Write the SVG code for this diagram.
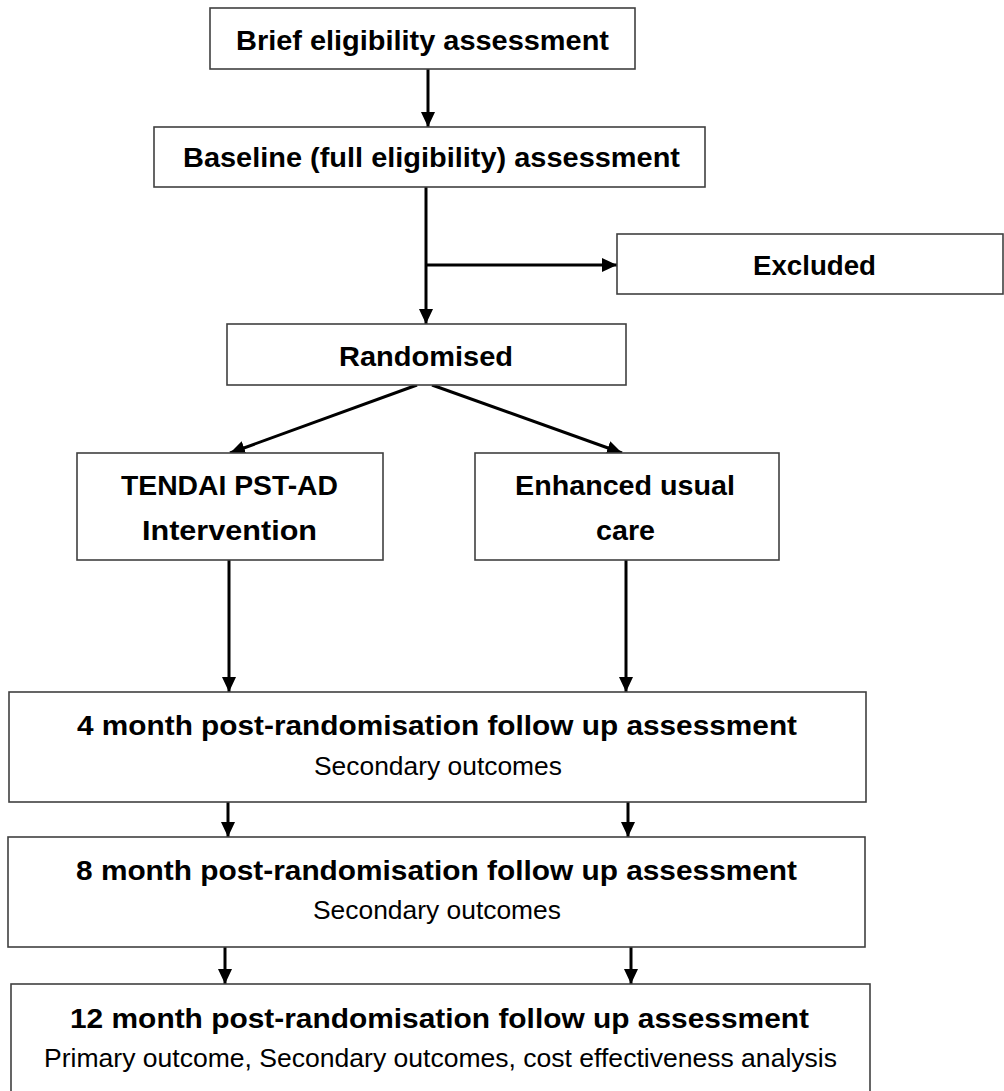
<svg xmlns="http://www.w3.org/2000/svg" width="1004" height="1091" viewBox="0 0 1004 1091">
<style>
.box{fill:#fff;stroke:#404040;stroke-width:1.6}
.t{font-family:"Liberation Sans",Arial,sans-serif;font-weight:bold;font-size:28px;fill:#000;text-anchor:middle}
.s{font-family:"Liberation Sans",Arial,sans-serif;font-weight:normal;font-size:25px;fill:#000;text-anchor:middle}
.c{stroke:#000;stroke-width:3;fill:none;marker-end:url(#ah)}
</style>
<defs>
<marker id="ah" markerUnits="userSpaceOnUse" markerWidth="16" markerHeight="14" refX="15" refY="7" orient="auto">
<path d="M0,0 L15,7 L0,14 Z" fill="#000"/>
</marker>
</defs>
<rect width="1004" height="1091" fill="#fff"/>
<g id="connectors">
<line class="c" x1="428" y1="69" x2="428" y2="127"/>
<line class="c" x1="426" y1="187" x2="426" y2="324"/>
<line class="c" x1="426" y1="265" x2="617" y2="265"/>
<line class="c" x1="417" y1="385" x2="230" y2="453"/>
<line class="c" x1="432" y1="385" x2="622" y2="453"/>
<line class="c" x1="229" y1="560" x2="229" y2="692"/>
<line class="c" x1="626" y1="560" x2="626" y2="692"/>
<line class="c" x1="228" y1="802" x2="228" y2="837"/>
<line class="c" x1="628" y1="802" x2="628" y2="837"/>
<line class="c" x1="225" y1="947" x2="225" y2="984"/>
<line class="c" x1="631" y1="947" x2="631" y2="984"/>
</g>
<g id="brief">
<rect class="box" x="210" y="8" width="425" height="61"/>
<text class="t" x="422.5" y="50" textLength="373" lengthAdjust="spacingAndGlyphs">Brief eligibility assessment</text>
</g>
<g id="baseline">
<rect class="box" x="154" y="127" width="551" height="60"/>
<text class="t" x="431.5" y="167" textLength="497" lengthAdjust="spacingAndGlyphs">Baseline (full eligibility) assessment</text>
</g>
<g id="excluded">
<rect class="box" x="617" y="234" width="386" height="60"/>
<text class="t" x="814.5" y="275" textLength="123" lengthAdjust="spacingAndGlyphs">Excluded</text>
</g>
<g id="randomised">
<rect class="box" x="227" y="324" width="399" height="61"/>
<text class="t" x="426" y="366" textLength="174" lengthAdjust="spacingAndGlyphs">Randomised</text>
</g>
<g id="tendai">
<rect class="box" x="77" y="453" width="306" height="107"/>
<text class="t" x="229.5" y="495" textLength="217" lengthAdjust="spacingAndGlyphs">TENDAI PST-AD</text>
<text class="t" x="229.5" y="540" textLength="175" lengthAdjust="spacingAndGlyphs">Intervention</text>
</g>
<g id="enhanced">
<rect class="box" x="475" y="453" width="304" height="107"/>
<text class="t" x="625" y="495" textLength="220" lengthAdjust="spacingAndGlyphs">Enhanced usual</text>
<text class="t" x="625.5" y="540" textLength="59" lengthAdjust="spacingAndGlyphs">care</text>
</g>
<g id="month4">
<rect class="box" x="9" y="692" width="857" height="110"/>
<text class="t" x="437" y="735" textLength="720" lengthAdjust="spacingAndGlyphs">4 month post-randomisation follow up assessment</text>
<text class="s" x="438" y="775" textLength="248" lengthAdjust="spacingAndGlyphs">Secondary outcomes</text>
</g>
<g id="month8">
<rect class="box" x="8" y="837" width="857" height="110"/>
<text class="t" x="436.5" y="880" textLength="721" lengthAdjust="spacingAndGlyphs">8 month post-randomisation follow up assessment</text>
<text class="s" x="437" y="919" textLength="248" lengthAdjust="spacingAndGlyphs">Secondary outcomes</text>
</g>
<g id="month12">
<rect class="box" x="11" y="984" width="859" height="130"/>
<text class="t" x="439.5" y="1028" textLength="739" lengthAdjust="spacingAndGlyphs">12 month post-randomisation follow up assessment</text>
<text class="s" x="440.5" y="1067" textLength="793" lengthAdjust="spacingAndGlyphs">Primary outcome, Secondary outcomes, cost effectiveness analysis</text>
</g>
</svg>
